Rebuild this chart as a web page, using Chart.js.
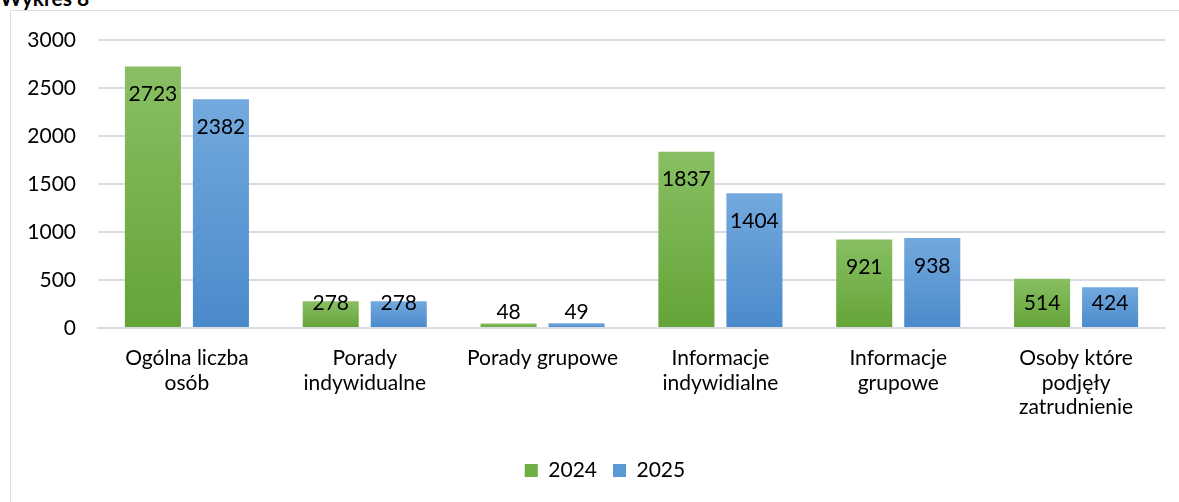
<!DOCTYPE html>
<html>
<head>
<meta charset="utf-8">
<script src="https://cdn.jsdelivr.net/npm/chart.js"></script>
<style>
  body { margin: 0; background: #fff; overflow: hidden; }
  #title { position: absolute; left: 0; top: -15px; font: bold 21px Lato, sans-serif; color: #000; }
  #frame { position: absolute; left: 10px; top: 10px; width: 1190px; height: 500px; border: 1px solid #d9dde6; box-sizing: border-box; }
  canvas { position: absolute; left: 0; top: 0; }
</style>
</head>
<body>
<div id="title">Wykres 8</div>
<div id="frame"><canvas id="wykres" width="1188" height="480"></canvas></div>
<script>
const kategorie = [
  ['Ogólna liczba', 'osób'],
  ['Porady', 'indywidualne'],
  'Porady grupowe',
  ['Informacje', 'indywidialne'],
  ['Informacje', 'grupowe'],
  ['Osoby które', 'podjęły', 'zatrudnienie']
];
const lata = ['2024', '2025'];
const wartosci2024 = [2723, 278, 48, 1837, 921, 514];
const wartosci2025 = [2382, 278, 49, 1404, 938, 424];
const osY = { min: 0, max: 3000, krok: 500 };

const FONT = 'Lato, sans-serif';

// gradient dla kazdego slupka osobno (jasniejszy u gory)
function gradient(gora, dol) {
  return function(ctx) {
    const chart = ctx.chart;
    if (!chart.chartArea || ctx.parsed == null) return dol;
    const y = chart.scales.y;
    const top = y.getPixelForValue(ctx.parsed.y);
    const base = y.getPixelForValue(0);
    if (base - top < 1) return dol;
    const g = chart.ctx.createLinearGradient(0, top, 0, base);
    g.addColorStop(0, gora);
    g.addColorStop(1, dol);
    return g;
  };
}

const etykiety = {
  id: 'etykiety',
  afterDatasetsDraw(chart) {
    const ctx = chart.ctx;
    ctx.save();
    ctx.font = '21px ' + FONT;
    ctx.fillStyle = '#000';
    ctx.textAlign = 'center';
    ctx.textBaseline = 'middle';
    chart.data.datasets.forEach((ds, i) => {
      chart.getDatasetMeta(i).data.forEach((bar, j) => {
        const h = bar.base - bar.y;
        const ty = h < 20 ? bar.y - 11 : bar.y + Math.min(28, h - 24);
        ctx.fillText(String(ds.data[j]), bar.x, ty);
      });
    });
    ctx.restore();
  }
};

new Chart(document.getElementById('wykres'), {
  type: 'bar',
  data: {
    labels: kategorie,
    datasets: [
      {
        label: lata[0],
        data: wartosci2024,
        backgroundColor: gradient('#88bf63', '#64a437'),
        categoryPercentage: 0.765,
        barPercentage: 0.824
      },
      {
        label: lata[1],
        data: wartosci2025,
        backgroundColor: gradient('#73a9de', '#4a8acb'),
        categoryPercentage: 0.765,
        barPercentage: 0.824
      }
    ]
  },
  options: {
    responsive: false,
    animation: false,
    layout: { padding: { top: 29, right: 0, left: 0, bottom: 0 } },
    plugins: {
      title: { display: false },
      tooltip: { enabled: false },
      legend: {
        position: 'bottom',
        labels: {
          boxWidth: 13,
          boxHeight: 13,
          padding: 16,
          color: '#44546a',
          font: { family: FONT, size: 21 },
          generateLabels(chart) {
            const kolory = ['#6fae45', '#5b98d6'];
            return chart.data.datasets.map((ds, i) => ({
              text: ds.label,
              fillStyle: kolory[i],
              strokeStyle: kolory[i],
              lineWidth: 0,
              datasetIndex: i
            }));
          }
        }
      }
    },
    scales: {
      x: {
        grid: { display: false },
        border: { display: true, color: '#d9dde3', width: 2 },
        ticks: { color: '#000', font: { family: FONT, size: 21, lineHeight: 1.17 }, padding: 10, maxRotation: 0, autoSkip: false },
        afterFit(scale) { scale.height = 116; }
      },
      y: {
        min: osY.min,
        max: osY.max,
        ticks: { stepSize: osY.krok, color: '#000', font: { family: FONT, size: 21, lineHeight: 0.6 }, padding: 22, callback: v => String(v) },
        grid: { color: '#d9dde3', lineWidth: 2, drawTicks: false },
        border: { display: false },
        afterFit(scale) { scale.width = 87; }
      },
      // pusty margines po prawej stronie obszaru wykresu
      prawy: {
        position: 'right',
        display: true,
        grid: { display: false },
        border: { display: false },
        ticks: { display: false },
        afterFit(scale) { scale.width = 34; }
      }
    }
  },
  plugins: [etykiety]
});
</script>
</body>
</html>
